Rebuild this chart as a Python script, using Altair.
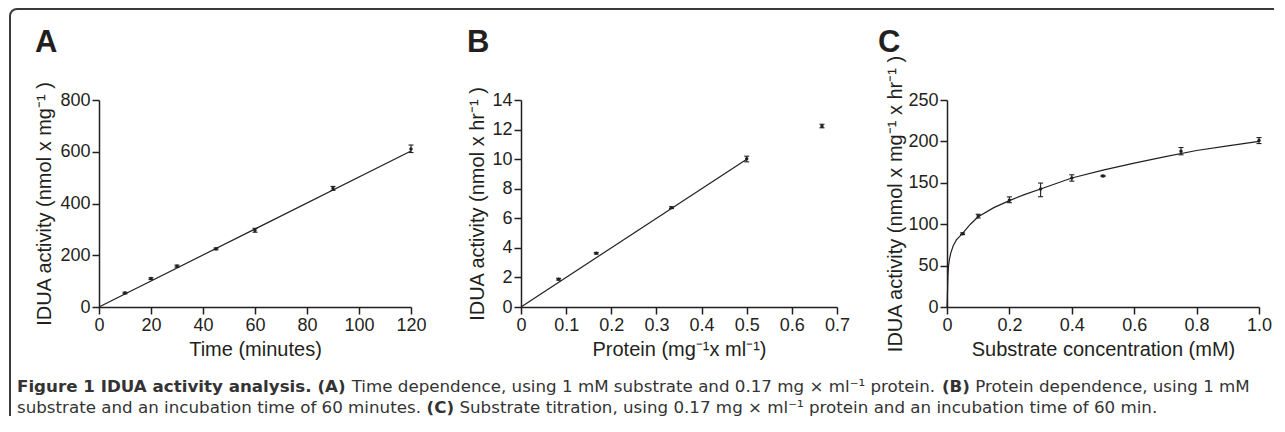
import altair as alt
import pandas as pd

# ---------------- data ----------------
# Panel A: time dependence
time_min = [10, 20, 30, 45, 60, 90, 120]
act_a = [54, 110, 158, 225, 297, 459, 611]
act_a_lo = [51, 106, 154, 221, 289, 451, 597]
act_a_hi = [57, 113, 162, 228, 304, 466, 626]
fit_a_x = [0, 120]
fit_a_y = [0, 603]

# Panel B: protein dependence
protein = [0.0833, 0.1667, 0.3333, 0.5, 0.6667]
act_b = [1.88, 3.63, 6.72, 10.02, 12.23]
act_b_lo = [1.82, 3.58, 6.66, 9.82, 12.12]
act_b_hi = [1.94, 3.69, 6.78, 10.2, 12.36]
fit_b_x = [0, 0.5]
fit_b_y = [0, 10.0]

# Panel C: substrate titration
substrate = [0.05, 0.1, 0.2, 0.3, 0.4, 0.5, 0.75, 1.0]
act_c = [88.5, 110, 129, 142.5, 155.8, 158.2, 188, 201]
act_c_lo = [87.5, 107.5, 126, 133.2, 152, 157.5, 183.8, 197.4]
act_c_hi = [89.5, 112, 133, 149.7, 159.7, 159, 192.6, 204.6]
fit_c_x = [0, 0.001, 0.002, 0.003, 0.005, 0.008, 0.012, 0.02, 0.03, 0.05, 0.075,
           0.1, 0.15, 0.2, 0.25, 0.3, 0.4, 0.5, 0.6, 0.7, 0.8, 0.9, 1.0]
fit_c_y = [0, 10, 25, 38, 50, 58, 65, 74, 81, 89, 100,
           109, 120, 128.5, 136, 142.5, 155.8, 165.4, 173.8, 181.6, 189, 194.7, 200]

x_ticks_a = [0, 20, 40, 60, 80, 100, 120]
y_ticks_a = [0, 200, 400, 600, 800]
x_ticks_b = [0, 0.1, 0.2, 0.3, 0.4, 0.5, 0.6, 0.7]
y_ticks_b = [0, 2, 4, 6, 8, 10, 12, 14]
x_ticks_c = [0, 0.2, 0.4, 0.6, 0.8, 1.0]
y_ticks_c = [0, 50, 100, 150, 200, 250]

caption_line1 = [("Figure 1 IDUA activity analysis. (A)", True),
                 (" Time dependence, using 1 mM substrate and 0.17 mg \u00d7 ml\u207b\u00b9 protein. ", False),
                 ("(B)", True),
                 (" Protein dependence, using 1 mM", False)]
caption_line2 = [("substrate and an incubation time of 60 minutes. ", False),
                 ("(C)", True),
                 (" Substrate titration, using 0.17 mg \u00d7 ml\u207b\u00b9 protein and an incubation time of 60 min.", False)]

# ---------------- styling ----------------
INK = "#231f20"
FRAME = "#3a3a3a"
CAP_COL = "#333333"
AX_FONT = "Liberation Sans"
CAP_FONT = "DejaVu Sans"
CAP_SIZE = 16.7

one = pd.DataFrame({"k": [0]})

# approximate DejaVu Sans advance widths (per 1000 em), only used to chain caption segments
W_REG = {' ': 318, '.': 318, ',': 318, '(': 390, ')': 390, '\u00d7': 838, '\u207b': 536, '\u00b9': 401,
         'A': 684, 'B': 686, 'C': 698, 'D': 770, 'F': 575, 'I': 295, 'M': 863, 'P': 603, 'S': 635,
         'T': 611, 'U': 732, 'a': 613, 'b': 635, 'c': 550, 'd': 635, 'e': 615, 'f': 352, 'g': 635,
         'h': 634, 'i': 278, 'l': 278, 'm': 974, 'n': 634, 'o': 612, 'p': 635, 'r': 411, 's': 521,
         't': 392, 'u': 634, 'v': 592, 'x': 592, 'y': 592}
W_BOLD = {' ': 348, '.': 380, ',': 380, '(': 457, ')': 457, 'A': 774, 'B': 762, 'C': 734, 'D': 830,
          'F': 683, 'I': 372, 'U': 812, 'a': 675, 'c': 593, 'e': 678, 'g': 716, 'i': 343, 'l': 343,
          'n': 712, 'r': 493, 's': 595, 't': 478, 'u': 712, 'v': 652, 'y': 652}
for d in "0123456789":
    W_REG[d] = 636
    W_BOLD[d] = 696


def tw(s, size, bold):
    table = W_BOLD if bold else W_REG
    return sum(table.get(ch, 640) for ch in s) * size / 1000.0


def caption_layers(segments, x0, y0):
    layers = []
    cur = x0
    for text, bold in segments:
        lead = len(text) - len(text.lstrip(" "))
        start = cur + tw(" " * lead, CAP_SIZE, bold)
        shown = text.strip(" ")
        layers.append(
            alt.Chart(one).mark_text(text=shown, align="left", baseline="alphabetic",
                                     font=CAP_FONT, fontSize=CAP_SIZE,
                                     fontWeight="bold" if bold else "normal", color=CAP_COL)
            .encode(x=alt.value(start), y=alt.value(y0)))
        cur += tw(text, CAP_SIZE, bold)
    return layers


def letter(txt, x, y):
    return alt.Chart(one).mark_text(text=txt, align="left", baseline="alphabetic",
                                    font=AX_FONT, fontSize=31, fontWeight="bold",
                                    color=INK).encode(x=alt.value(x), y=alt.value(y))


label_expr = "datum.value == 0 ? '0' : format(datum.value, '.1f')"


def panel(px, py, plo, phi, fx, fy, xdom, xvals, ydom, yvals, xtitle, ytitle,
          w, ytp, xlabexpr=None, extra=None):
    pts = pd.DataFrame({"x": px, "y": py, "lo": plo, "hi": phi})
    fit = pd.DataFrame({"x": fx, "y": fy})
    xs = alt.Scale(domain=xdom, nice=False, zero=False)
    ys = alt.Scale(domain=ydom, nice=False, zero=False)
    xkw = dict(values=xvals, title=xtitle)
    if xlabexpr:
        xkw["labelExpr"] = xlabexpr
    xa = alt.Axis(**xkw)
    ya = alt.Axis(values=yvals, title=ytitle, titlePadding=ytp)
    X = alt.X("x:Q", scale=xs, axis=xa)
    line = alt.Chart(fit).mark_line(color=INK, strokeWidth=1.2).encode(
        x=X, y=alt.Y("y:Q", scale=ys, axis=ya))
    bars = alt.Chart(pts).mark_rule(color=INK, strokeWidth=1.1).encode(
        x=X, y=alt.Y("lo:Q", scale=ys, axis=ya), y2="hi:Q")
    cap_lo = alt.Chart(pts).mark_rule(color=INK, strokeWidth=1.1, xOffset=-2.5, x2Offset=2.5).encode(
        x=X, x2="x:Q", y=alt.Y("lo:Q", scale=ys, axis=ya))
    cap_hi = alt.Chart(pts).mark_rule(color=INK, strokeWidth=1.1, xOffset=-2.5, x2Offset=2.5).encode(
        x=X, x2="x:Q", y=alt.Y("hi:Q", scale=ys, axis=ya))
    dots = alt.Chart(pts).mark_point(filled=True, size=12, color=INK, opacity=1).encode(
        x=X, y=alt.Y("y:Q", scale=ys, axis=ya))
    layers = [line, bars, cap_lo, cap_hi, dots] + (extra or [])
    return alt.layer(*layers).properties(width=w, height=207)


# ---- decorations for panel A (positions relative to panel A's plot origin) ----
R = 7
frame = [
    alt.Chart(one).mark_rule(color=FRAME, strokeWidth=2).encode(
        x=alt.value(-89), y=alt.value(-91 + R), y2=alt.value(316)),
    alt.Chart(one).mark_rule(color=FRAME, strokeWidth=2).encode(
        x=alt.value(-89 + R), x2=alt.value(1175), y=alt.value(-91)),
    alt.Chart(one).mark_arc(theta=4.712389, theta2=6.283185, radius=R + 1, radius2=R - 1,
                            color=FRAME).encode(x=alt.value(-89 + R), y=alt.value(-91 + R)),
]
cap = caption_layers(caption_line1, -82, 292) + caption_layers(caption_line2, -82, 313)

pA = panel(time_min, act_a, act_a_lo, act_a_hi, fit_a_x, fit_a_y,
           [0, 120], x_ticks_a, [0, 800], y_ticks_a,
           "Time (minutes)", "IDUA activity (nmol x mg\u207b\u00b9 )", 312, 5,
           extra=frame + [letter("A", -64, -48)] + cap)

pB = panel(protein, act_b, act_b_lo, act_b_hi, fit_b_x, fit_b_y,
           [0, 0.7], x_ticks_b, [0, 14], y_ticks_b,
           "Protein (mg\u207b\u00b9x ml\u207b\u00b9)", "IDUA activity (nmol x hr\u207b\u00b9 )", 316, 4,
           xlabexpr=label_expr, extra=[letter("B", -54, -48)])

pC = panel(substrate, act_c, act_c_lo, act_c_hi, fit_c_x, fit_c_y,
           [0, 1.0], x_ticks_c, [0, 250], y_ticks_c,
           "Substrate concentration (mM)", "IDUA activity (nmol x mg\u207b\u00b9 x hr\u207b\u00b9 )", 312, 2,
           xlabexpr=label_expr, extra=[letter("C", -69, -48)])

chart = (
    alt.hconcat(pA, pB, pC, spacing=110, bounds="flush")
    .properties(padding={"left": 1, "top": 0, "right": 0, "bottom": 0}, background="white")
    .configure_view(stroke=None)
    .configure_axis(grid=False, domainColor=INK, domainWidth=1.5, tickColor=INK, tickWidth=1.5,
                    tickSize=7, labelFont=AX_FONT, labelFontSize=18, labelColor=INK,
                    labelPadding=2, labelFlush=False, labelOverlap=False,
                    titleFont=AX_FONT, titleFontSize=20, titleFontWeight="normal", titleColor=INK)
    .configure_axisX(titlePadding=5)
)

chart.save("out.html", embed_options={"renderer": "svg", "actions": False})
